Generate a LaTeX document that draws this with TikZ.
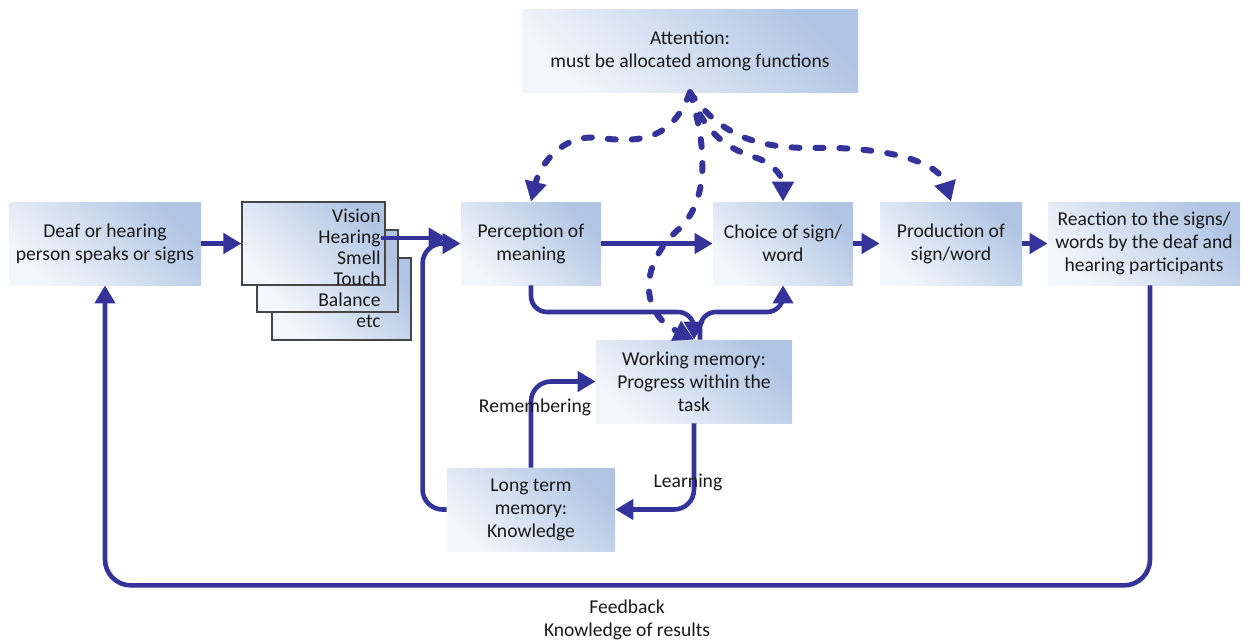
\documentclass[tikz,border=0pt]{standalone}
\usepackage{fontspec}
\setmainfont{Carlito}
\usetikzlibrary{arrows.meta,calc}
\definecolor{flow}{RGB}{51,51,153}
\definecolor{boxlo}{RGB}{243,246,251}
\definecolor{boxhi}{RGB}{176,197,228}
\definecolor{ink}{RGB}{25,25,25}
\definecolor{edge}{RGB}{70,70,70}
\begin{document}
\begin{tikzpicture}[x=0.5pt,y=-0.5pt,
  font=\fontsize{9.8}{11.5}\selectfont, text=ink,
  stage/.style={top color=boxhi, bottom color=boxlo, shading angle=-45,
    minimum height=41.5pt, align=center, inner sep=2pt},
  sensebox/.style={stage, draw=edge, line width=0.6pt},
  sense/.style={anchor=east, inner sep=0pt},
  lbl/.style={inner sep=1pt, align=center},
  tip/.style={-{Triangle[length=9pt,width=10pt]}},
  flowline/.style={draw=flow, line width=2.3pt, tip},
  attn/.style={draw=flow, line width=3pt, line cap=round,
    dash pattern=on 4pt off 8pt, -{Triangle[length=10pt,width=10.5pt]}}]
\useasboundingbox (0,0) rectangle (1248,643);

% stages of the process
\node[stage, minimum width=168pt] (att) at (690,50.5) {Attention:\\must be allocated among functions};
\node[stage, minimum width=96pt] (deaf) at (105,243.5) {Deaf or hearing\\person speaks or signs};
\node[stage, minimum width=70pt] (perc) at (531,243.5) {Perception of\\meaning};
\node[stage, minimum width=70pt] (choice) at (783,243.5) {Choice of sign/\\word};
\node[stage, minimum width=71pt] (prod) at (951,243.5) {Production of\\sign/word};
\node[stage, minimum width=96pt] (react) at (1144,243.5) {Reaction to the signs/\\words by the deaf and\\hearing participants};
\node[stage, minimum width=98pt] (wm) at (694,381.5) {Working memory:\\Progress within the\\task};
\node[stage, minimum width=84pt] (ltm) at (531,509.5) {Long term\\memory:\\Knowledge};

% stacked sense channels
\node[sensebox, minimum width=69.5pt, minimum height=41pt] (sensC) at (341.5,299) {};
\node[sensebox, minimum width=70.5pt, minimum height=41pt] (sensB) at (327.5,271) {};
\node[sensebox, minimum width=71.5pt, minimum height=41.5pt] (sensA) at (313.5,243.5) {};
\node[sense] (vis) at (381,216) {Vision};
\node[sense] (hear) at (381,238) {Hearing};
\node[sense] (smell) at (381,258) {Smell};
\node[sense] (touch) at (381,279) {Touch};
\node[sense] (bal) at (381,300) {Balance};
\node[sense] (etc) at (381,321) {etc};

% main flow
\draw[flowline] (deaf.east) -- (sensA.west);
\draw[flowline, shorten >=7pt] (hear.east) -- (hear.east -| perc.west);
\draw[flowline, rounded corners=10pt] (ltm.west) -- ++(-24,0) |- (perc.west);
\draw[flowline] (perc.east) -- (choice.west);
\draw[flowline] (choice.east) -- (prod.west);
\draw[flowline] (prod.east) -- (react.west);
\draw[flowline, rounded corners=13pt] ([xshift=3pt]react.south) -- ++(0,300) -| (deaf.south);

% links through working memory
\coordinate (bus) at (0,312);
\draw[flowline, rounded corners=8pt] (perc.south) |- (bus -| wm.north) -- (wm.north);
\draw[flowline, rounded corners=8pt] ([xshift=3pt]wm.north) -- ([xshift=3pt]bus -| wm.north) -| (choice.south);
\draw[flowline, rounded corners=10pt] (ltm.north) |- (wm.west);
\draw[flowline, rounded corners=10pt] (wm.south) |- (ltm.east);

% attention allocated to the functions
\draw[attn] (att.south) .. controls (672,140) and (640,143) .. (600,138)
  .. controls (562,133) and (540,165) .. (perc.north);
\draw[attn] (att.south) .. controls (705,135) and (730,150) .. (757,158)
  .. controls (778,166) and (783,180) .. (choice.north);
\draw[attn] (att.south) .. controls (718,132) and (752,148) .. (810,148)
  .. controls (880,146) and (938,160) .. (prod.north);
\draw[attn] (att.south) .. controls (708,150) and (708,200) .. (680,228)
  .. controls (640,262) and (638,312) .. (wm.north);

% labels
\node[lbl] (remlab) at (535,407) {Remembering};
\node[lbl] (learnlab) at (688,482) {Learning};
\node[lbl] (fblab) at (627,620) {Feedback\\Knowledge of results};
\end{tikzpicture}
\end{document}
